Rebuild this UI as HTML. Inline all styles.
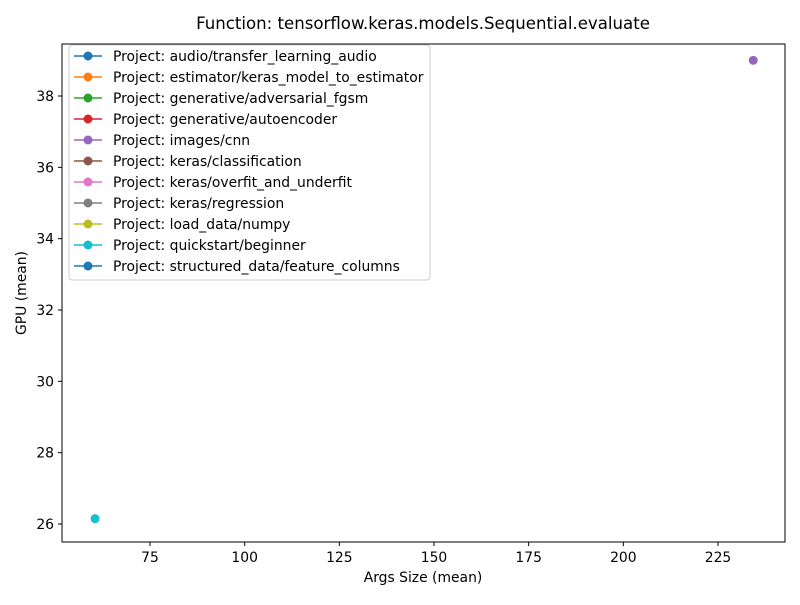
<!DOCTYPE html>
<html><head><meta charset="utf-8"><style>
body{margin:0;background:#fff;}
svg text{font-family:"DejaVu Sans","Liberation Sans",sans-serif;}
</style></head><body>
<svg id="c" width="800" height="600" xmlns="http://www.w3.org/2000/svg">
<rect width="800" height="600" fill="#fff"/>
<text x="423" y="29" font-size="16.6" text-anchor="middle">Function: tensorflow.keras.models.Sequential.evaluate</text>
<text x="423" y="582" font-size="13.9" text-anchor="middle">Args Size (mean)</text>
<text transform="translate(26,293) rotate(-90)" font-size="13.9" text-anchor="middle">GPU (mean)</text>
<g id="xt"></g>
<g id="yt"></g>
<g id="pts"></g>
<rect x="62" y="44" width="723" height="498" fill="none" stroke="#000" stroke-width="1"/>
<g id="leg"></g>
</svg>
<script>
const projects=["audio/transfer_learning_audio","estimator/keras_model_to_estimator","generative/adversarial_fgsm","generative/autoencoder","images/cnn","keras/classification","keras/overfit_and_underfit","keras/regression","load_data/numpy","quickstart/beginner","structured_data/feature_columns"];
const colors=["#1f77b4","#ff7f0e","#2ca02c","#d62728","#9467bd","#8c564b","#e377c2","#7f7f7f","#bcbd22","#17becf","#1f77b4"];
const pointSeries=["images/cnn","quickstart/beginner"];
const xValues=[234.3,60.5];
const yValues=[39.0,26.15];
const xTicks=[75,100,125,150,175,200,225];
const yTicks=[26,28,30,32,34,36,38];
const NS="http://www.w3.org/2000/svg";
const xs=v=>150+(v-75)*(568/150);
const ys=v=>524-(v-26)*(428/12);
function mk(t,a,p){const e=document.createElementNS(NS,t);for(const k in a)e.setAttribute(k,a[k]);p.appendChild(e);return e;}
const xt=document.getElementById('xt'),yt=document.getElementById('yt'),pts=document.getElementById('pts'),leg=document.getElementById('leg');
xTicks.forEach(v=>{const x=xs(v);
const l=mk('line',{x1:x,x2:x,y1:542,y2:546,stroke:'#000'},xt);


const t=mk('text',{x:x,y:562,'font-size':13.9,'text-anchor':'middle'},xt);t.textContent=v;

});
yTicks.forEach(v=>{const y=ys(v);
const l=mk('line',{x1:58,x2:62,y1:y,y2:y,stroke:'#000'},yt);


const t=mk('text',{x:54,y:y+5,'font-size':13.9,'text-anchor':'end'},yt);t.textContent=v;

});
pointSeries.forEach((p,i)=>{const c=colors[projects.indexOf(p)];
const m=mk('circle',{cx:xs(xValues[i]),cy:ys(yValues[i]),r:4.5,fill:c},pts);

});
const lb=mk('rect',{x:69,y:45,width:361,height:235,rx:3,fill:'#fff','fill-opacity':0.8,stroke:'#ccc'},leg);


projects.forEach((p,i)=>{const y=56+i*21;const g=mk('g',{},leg);


mk('line',{x1:74,x2:102,y1:y,y2:y,stroke:colors[i],'stroke-width':1.5},g);
mk('circle',{cx:88,cy:y,r:4.5,fill:colors[i]},g);
const t=mk('text',{x:113,y:y+5,'font-size':13.9},g);t.textContent='Project: '+p;});
</script>
</body></html>
